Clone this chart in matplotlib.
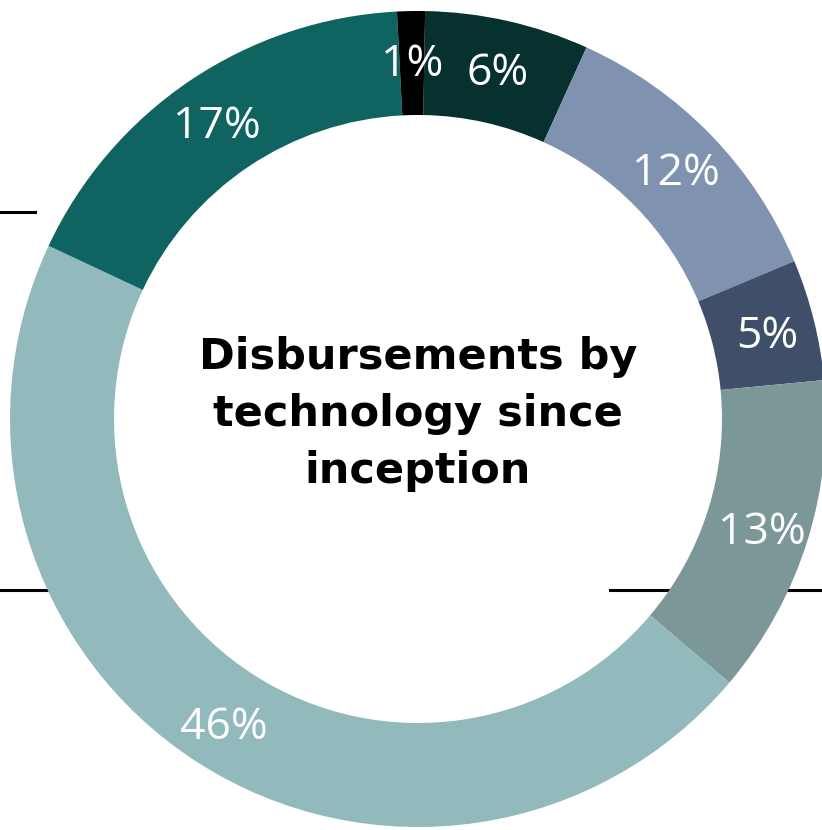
import numpy as np
import matplotlib.pyplot as plt

# Disbursements by technology since inception (share, %)
labels = ["6%", "12%", "5%", "13%", "46%", "17%", "1%"]
shares = [6.5, 11.9, 4.8, 12.7, 45.8, 17.2, 1.1]
colors = ["#07312F", "#7F93B0", "#3F4F69", "#7C9798", "#92B9BB", "#0F6360", "#000000"]

fig = plt.figure(figsize=(8.22, 8.30), dpi=100)
ax = fig.add_axes([0, 0, 1, 1])

# stray slide rules behind the ring
ax.plot([0, 35], [830 - 212, 830 - 212], color="black", lw=2.2, zorder=0)
ax.plot([0, 120], [830 - 590, 830 - 590], color="black", lw=2.2, zorder=0)
ax.plot([610, 822], [830 - 590, 830 - 590], color="black", lw=2.2, zorder=0)

cx, cy = 418, 830 - 419
radius = 408
start = 89
wedges, _ = ax.pie(
    shares,
    colors=colors,
    startangle=start,
    counterclock=False,
    center=(cx, cy),
    radius=radius,
    wedgeprops=dict(width=104, linewidth=0),
    frame=True,
)
ax.set_xlim(0, 822)
ax.set_ylim(0, 830)
ax.set_aspect("equal")
ax.axis("off")

# percentage labels in the middle of the ring
mid_r = 360
angle = float(start)
for lab, val in zip(labels, shares):
    span = val / sum(shares) * 360
    mid = np.deg2rad(angle - span / 2)
    angle -= span
    ax.text(cx + mid_r * np.cos(mid), cy - 6 + mid_r * np.sin(mid), lab,
            ha="center", va="center", color="white", fontsize=32,
            family="Open Sans", zorder=5)

ax.text(cx, 830 - 414, "Disbursements by\ntechnology since\ninception",
        ha="center", va="center", fontsize=31, fontweight="bold",
        family="DejaVu Sans", linespacing=1.45, zorder=5)

fig.savefig("out.png", dpi=100)
